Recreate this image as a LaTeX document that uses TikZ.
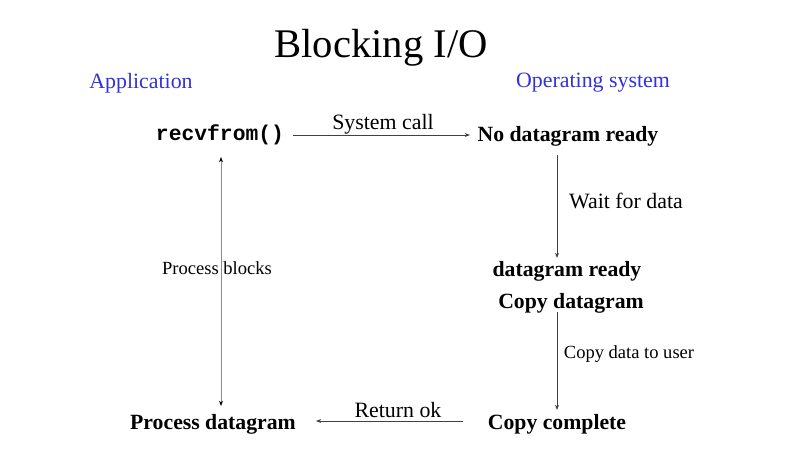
\documentclass[tikz,border=0pt]{standalone}
\usepackage{fontspec}
\setmainfont{Liberation Serif}
\setmonofont{Liberation Mono}
\usetikzlibrary{arrows.meta}
\definecolor{osblue}{RGB}{50,50,220}
\begin{document}
\begin{tikzpicture}[x=0.75pt,y=-0.75pt,
  every node/.style={inner sep=0pt,anchor=center},
  bigtxt/.style={font=\fontsize{16.3pt}{18pt}\selectfont\bfseries},
  lbl/.style={font=\fontsize{16.4pt}{18pt}\selectfont},
  small/.style={font=\fontsize{13.9pt}{15pt}\selectfont},
  head/.style={font=\fontsize{16.4pt}{18pt}\selectfont,text=osblue},
  arr/.style={draw=black!75,line width=0.6pt,-{Stealth[length=4pt,width=3pt]}},
  darr/.style={draw=black!45,line width=0.6pt,{Stealth[length=4pt,width=3pt,black]}-{Stealth[length=4pt,width=3pt,black]}}]
\useasboundingbox[fill=white] (0,0) rectangle (808,453);
\node[font=\fontsize{30.5pt}{34pt}\selectfont] (title) at (381,48) {Blocking I/O};
\node[head] (app) at (141,83) {Application};
\node[head] (os) at (593,83) {Operating system};
\node[font=\fontsize{16pt}{18pt}\selectfont\ttfamily\bfseries] (recv) at (220,135) {recvfrom()};
\node[bigtxt] (nodg) at (568,136) {No datagram ready};
\node[bigtxt] (dgr) at (567,271) {datagram ready};
\node[bigtxt] (copydg) at (571,303) {Copy datagram};
\node[bigtxt] (cc) at (557,424) {Copy complete};
\node[bigtxt] (pd) at (213,424) {Process datagram};
\coordinate (sc1) at (293,135);
\coordinate (sc2) at (470,135);
\draw[arr] (sc1) -- (sc2);
\node[lbl] (sclbl) at (383,124) {System call};
\coordinate (w1) at (557,155);
\coordinate (w2) at (557,258);
\draw[arr] (w1) -- (w2);
\node[lbl] (wlbl) at (626,201) {Wait for data};
\coordinate (c1) at (557,312);
\coordinate (c2) at (557,410);
\draw[arr] (c1) -- (c2);
\node[small] (clbl) at (629,354) {Copy data to user};
\coordinate (r1) at (463,421);
\coordinate (r2) at (316,421);
\draw[arr] (r1) -- (r2);
\node[lbl] (rlbl) at (398,410) {Return ok};
\coordinate (p1) at (221,157);
\coordinate (p2) at (221,406);
\draw[darr] (p1) -- (p2);
\node[small] (plbl) at (217,268) {Process blocks};
\end{tikzpicture}
\end{document}
